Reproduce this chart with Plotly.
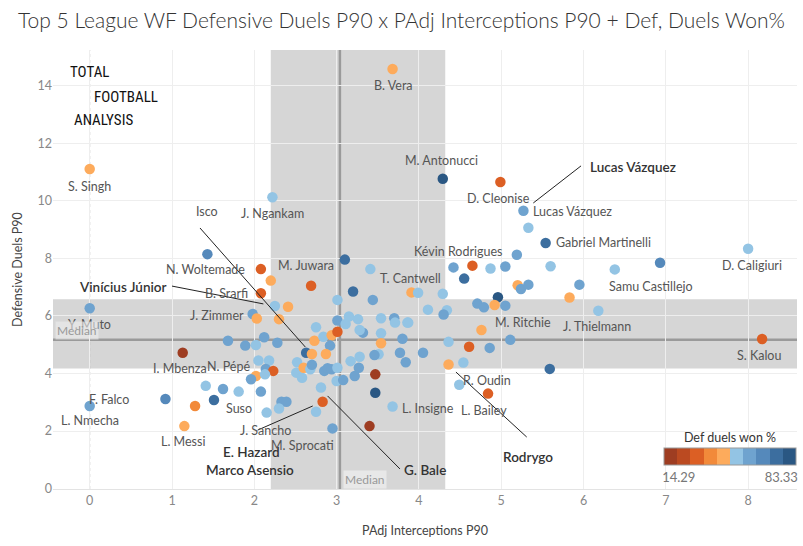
import plotly.graph_objects as go

# ---------------- data ----------------
padj_interceptions = [
    0.00, 3.68, 4.29, 4.99, 5.27, 5.33, 5.54, 8.00, 6.93, 5.19, 4.42, 4.65, 4.87, 5.05, 5.60, 6.38,
    4.55, 3.91, 3.99, 4.29, 5.20, 5.24, 5.33, 5.95, 4.96, 5.83, 6.18, 4.11, 4.34, 4.30, 4.71, 4.79,
    4.92, 5.05, 3.87, 4.76, 3.80, 4.36, 4.61, 4.86, 5.11, 8.17, 4.05, 4.36, 4.54, 5.59, 4.49, 4.84,
    1.68, 1.89, 2.02, 2.12, 2.28, 1.13, 2.73, 2.84, 2.94, 3.01, 2.92, 2.63, 2.70, 2.87, 3.32, 3.54,
    3.54, 3.28, 3.17, 3.27, 3.51, 3.46, 3.77, 3.84, 2.05, 2.18, 2.14, 2.23, 2.02, 2.13, 1.96, 2.52,
    2.51, 2.58, 2.60, 2.68, 2.70, 2.85, 2.89, 2.94, 3.00, 3.08, 3.01, 3.22, 3.47, 3.47, 3.40, 3.68,
    2.81, 2.83, 2.75, 2.95, 2.33, 2.39, 2.30, 2.15, 2.08, 1.81, 1.62, 1.41, 1.51, 1.28, 1.15, 0.92,
    0.00, 0.00, 2.22, 1.43, 2.08, 2.20, 2.08, 2.69, 2.25, 2.41, 1.98, 2.03, 2.30, 2.75, 3.10, 3.41,
    3.20, 3.44, 3.01, 3.01, 3.11, 3.15, 3.26, 3.28, 3.54, 3.70, 3.71, 3.86,
]
defensive_duels = [
    11.11, 14.59, 10.77, 10.66, 9.66, 9.07, 8.54, 8.34, 7.85, 8.13, 7.69, 7.75, 7.65, 7.72, 7.73, 7.62,
    7.30, 6.82, 6.81, 6.77, 7.07, 6.94, 7.09, 7.09, 6.65, 6.64, 6.18, 6.22, 6.20, 6.05, 6.43, 6.30,
    6.38, 6.36, 5.77, 5.51, 5.21, 5.10, 4.93, 4.89, 5.17, 5.20, 4.72, 4.31, 4.38, 4.16, 3.61, 3.30,
    5.14, 4.97, 4.99, 5.26, 5.07, 4.72, 5.14, 5.28, 5.33, 5.45, 4.97, 4.72, 4.68, 4.68, 5.42, 5.40,
    5.05, 4.58, 4.43, 4.20, 4.67, 4.64, 4.72, 4.39, 4.45, 4.45, 4.16, 4.09, 3.91, 3.97, 3.80, 4.39,
    4.03, 3.85, 4.20, 4.15, 4.30, 4.09, 4.18, 4.15, 3.74, 3.77, 4.20, 3.91, 3.97, 3.33, 2.17, 2.85,
    3.51, 3.02, 2.67, 2.09, 3.02, 3.02, 2.78, 2.64, 3.37, 3.37, 3.46, 3.57, 3.08, 2.87, 2.17, 3.11,
    2.87, 6.27, 10.13, 8.15, 7.63, 7.23, 6.79, 7.05, 6.35, 6.32, 6.07, 5.91, 5.89, 5.61, 7.96, 7.63,
    6.85, 6.56, 6.56, 5.84, 5.72, 5.98, 5.89, 5.51, 5.92, 5.92, 5.77, 5.77,
]
def_duels_won_pct = [
    45, 45, 80, 31, 59, 52, 73, 52, 66, 59, 59, 31, 52, 59, 52, 52,
    73, 45, 52, 52, 45, 59, 59, 59, 80, 45, 52, 52, 52, 59, 59, 59,
    45, 59, 52, 45, 59, 52, 31, 59, 59, 31, 59, 45, 52, 73, 52, 31,
    59, 59, 52, 59, 59, 18, 45, 52, 45, 31, 59, 73, 45, 45, 59, 52,
    45, 52, 52, 59, 52, 59, 59, 59, 52, 52, 59, 31, 45, 52, 59, 52,
    52, 52, 45, 52, 59, 59, 59, 59, 52, 59, 52, 59, 18, 80, 18, 52,
    52, 31, 52, 59, 59, 59, 52, 52, 59, 52, 59, 52, 73, 38, 45, 66,
    59, 59, 52, 66, 31, 45, 31, 31, 52, 45, 59, 45, 45, 52, 73, 52,
    73, 59, 52, 59, 52, 52, 52, 52, 52, 59, 52, 52,
]

won_min, won_max = 14.29, 83.33
legend_colors = ["#9e3d22", "#bb4a21", "#dc5f24", "#f28a3a", "#fdab5c",
                 "#93c4e4", "#6fa3cf", "#5589bb", "#3c6e9f", "#2a5783"]

median_x, median_y = 3.04, 5.17
band_x = [2.20, 4.32]
band_y = [4.17, 6.58]

label_names = ["S. Singh", "B. Vera", "M. Antonucci", "D. Cleonise", "Lucas Vázquez", "Lucas Vázquez",
               "Gabriel Martinelli", "D. Caligiuri", "Samu Castillejo", "J. Thielmann", "M. Ritchie",
               "Kévin Rodrigues", "T. Cantwell", "M. Juwara", "N. Woltemade", "B. Srarfi", "J. Zimmer",
               "Y. Muto", "I. Mbenza", "N. Pépé", "F. Falco", "L. Nmecha", "Suso", "L. Messi", "J. Sancho",
               "E. Hazard", "Marco Asensio", "M. Sprocati", "G. Bale", "L. Insigne", "R. Oudin", "L. Bailey",
               "Rodrygo", "Isco", "J. Ngankam", "Vinícius Júnior", "S. Kalou"]
label_x = [0.00, 3.69, 4.27, 4.97, 5.87, 6.60, 6.24, 8.05, 6.82, 6.16, 5.26, 4.47, 3.90, 2.63, 1.41, 1.66,
           1.55, 0.00, 1.10, 1.69, 0.23, 0.00, 1.81, 1.13, 2.14, 1.97, 1.95, 2.58, 4.07, 4.11, 4.83, 4.79,
           5.33, 1.43, 2.22, 0.40, 8.13]
label_y = [10.52, 14.00, 11.39, 10.10, 9.62, 11.18, 8.54, 7.74, 7.01, 5.62, 5.79, 8.26, 7.32, 7.74, 7.60,
           6.77, 6.00, 5.69, 4.19, 4.26, 3.08, 2.35, 2.80, 1.62, 2.03, 1.27, 0.64, 1.51, 0.64, 2.80, 3.77,
           2.73, 1.10, 9.65, 9.55, 7.01, 4.64]
# 1 = highlighted (bold) label, 0 = regular
label_bold = [0, 0, 0, 0, 0, 1, 0, 0, 0, 0, 0, 0, 0, 0, 0, 0, 0, 0, 0, 0, 0, 0, 0, 0, 0,
              1, 1, 0, 1, 0, 0, 0, 1, 0, 0, 1, 0]

# leader lines (from label to mark), data coords
leader_from_x = [1.34, 1.00, 5.97, 2.89, 2.04, 4.45]
leader_from_y = [9.06, 7.04, 11.22, 3.22, 2.03, 4.05]
leader_to_x = [2.62, 2.11, 5.39, 3.77, 2.71, 5.31]
leader_to_y = [4.92, 6.42, 9.93, 0.68, 2.87, 1.79]

x_ticks = list(range(0, 9))
y_ticks = list(range(0, 15, 2))

FONT = "Lato, 'Noto Sans', sans-serif"

# ---------------- figure ----------------
n = len(legend_colors)
colorscale = []
for i, c in enumerate(legend_colors):
    colorscale.append([i / n, c])
    colorscale.append([(i + 1) / n, c])

fig = go.Figure()

fig.add_trace(go.Scatter(
    x=padj_interceptions, y=defensive_duels, mode="markers",
    marker=dict(size=10.5, color=def_duels_won_pct, coloraxis="coloraxis", line=dict(width=0)),
    hoverinfo="skip", showlegend=False,
))

# bands and medians
fig.add_shape(type="rect", xref="x", yref="paper", x0=band_x[0], x1=band_x[1], y0=0, y1=1,
              fillcolor="#d6d6d6", line_width=0, layer="below")
fig.add_shape(type="rect", xref="paper", yref="y", x0=0, x1=1, y0=band_y[0], y1=band_y[1],
              fillcolor="#d6d6d6", line_width=0, layer="below")
fig.add_shape(type="line", xref="x", yref="paper", x0=median_x, x1=median_x, y0=0, y1=1,
              line=dict(color="#9a9a9a", width=2.5), layer="below")
fig.add_shape(type="line", xref="paper", yref="y", x0=0, x1=1, y0=median_y, y1=median_y,
              line=dict(color="#9a9a9a", width=2.5), layer="below")
fig.add_shape(type="line", xref="x", yref="paper", x0=0, x1=0, y0=0, y1=1,
              line=dict(color="#bbbbbb", width=1, dash="dot"), layer="below")

for fx, fy, tx, ty in zip(leader_from_x, leader_from_y, leader_to_x, leader_to_y):
    fig.add_shape(type="line", xref="x", yref="y", x0=fx, y0=fy, x1=tx, y1=ty,
                  line=dict(color="#222222", width=1))

for name, lx, ly, b in zip(label_names, label_x, label_y, label_bold):
    fig.add_annotation(x=lx, y=ly, xref="x", yref="y", text=name, showarrow=False,
                       font=dict(family=FONT, size=13.5 if b else 12.5,
                                 color="#333333" if b else "#555555",
                                 weight=600 if b else 400))

# median labels
fig.add_annotation(x=-0.155, y=5.48, xref="x", yref="y", text="Median", showarrow=False,
                   bgcolor="rgba(236,236,236,0.6)", font=dict(family=FONT, size=12, color="#999999"))
fig.add_annotation(x=3.35, y=0.30, xref="x", yref="y", text="Median", showarrow=False,
                   bgcolor="rgba(236,236,236,0.8)", font=dict(family=FONT, size=12, color="#999999"))

# logo
for txt, px, py in [("TOTAL", 0.02, 0.975), ("FOOTBALL", 0.053, 0.917), ("ANALYSIS", 0.025, 0.865)]:
    fig.add_annotation(x=px, y=py, xref="paper", yref="paper", xanchor="left", yanchor="top",
                       text=txt, showarrow=False,
                       font=dict(family="'Liberation Sans Narrow', 'Roboto Condensed', Roboto, sans-serif",
                                 size=15, color="#111111"))

fig.update_layout(
    width=803, height=546,
    margin=dict(l=53, r=6, t=50, b=57),
    paper_bgcolor="white", plot_bgcolor="white",
    font=dict(family=FONT, color="#555555"),
    title=dict(text="Top 5 League WF Defensive Duels P90 x PAdj Interceptions P90 + Def, Duels Won%",
               x=0.5, xanchor="center", y=0.962, yanchor="middle",
               font=dict(family=FONT, size=21, color="#333333", weight=300)),
    coloraxis=dict(
        colorscale=colorscale, cmin=won_min, cmax=won_max,
        colorbar=dict(
            orientation="h", x=0.91, xanchor="center", y=0.0155, yanchor="bottom",
            len=132, lenmode="pixels", thickness=17, outlinecolor="#999999", outlinewidth=1,
            xpad=0, ypad=0,
            title=dict(text="Def duels won %", side="top", font=dict(family=FONT, size=12.5, color="#333333")),
            tickvals=[22.0, 75.6], ticktext=[f"{won_min:.2f}", f"{won_max:.2f}"], ticks="",
            tickfont=dict(family=FONT, size=13, color="#777777"),
        ),
    ),
    xaxis=dict(range=[-0.446, 8.594], tickvals=x_ticks, showgrid=True, gridcolor="#eeeeee", gridwidth=1,
               zeroline=False, showline=True, linecolor="#e3e3e3", ticks="",
               tickfont=dict(family=FONT, size=12.5, color="#888888"),
               title=dict(text="PAdj Interceptions P90", standoff=19,
                          font=dict(family=FONT, size=12.5, color="#444444"))),
    yaxis=dict(range=[-0.017, 15.25], tickvals=y_ticks, showgrid=True, gridcolor="#eeeeee", gridwidth=1,
               zeroline=False, showline=False, ticks="",
               tickfont=dict(family=FONT, size=12.5, color="#888888"),
               title=dict(text="Defensive Duels P90", standoff=12,
                          font=dict(family=FONT, size=12.5, color="#444444"))),
)

fig.write_html("out.html")
